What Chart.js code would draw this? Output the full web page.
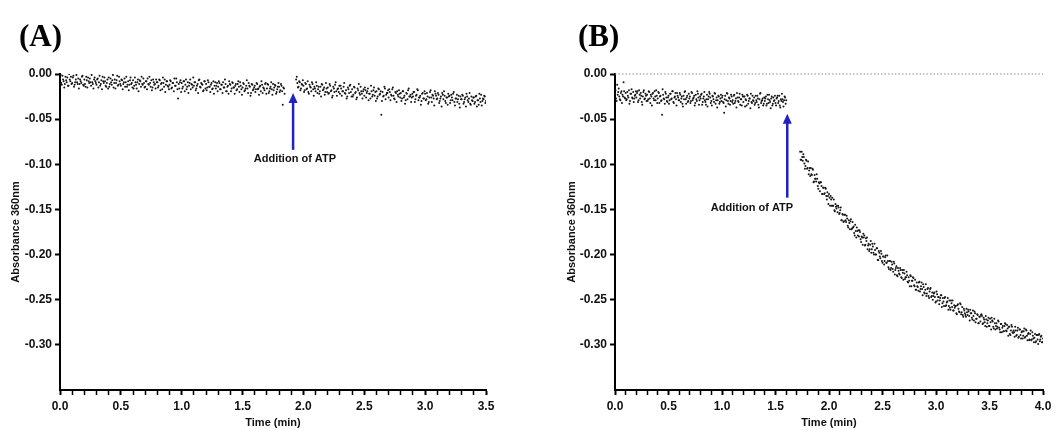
<!DOCTYPE html>
<html>
<head>
<meta charset="utf-8">
<script src="https://cdn.jsdelivr.net/npm/chart.js@4.4.1/dist/chart.umd.min.js"></script>
<style>
  html, body { margin: 0; padding: 0; background: #fff; }
  #wrap { position: relative; width: 1062px; height: 431px; overflow: hidden; }
  .panel { position: absolute; top: 0; width: 531px; height: 431px; }
  .tag { position: absolute; font: bold 31px "Liberation Serif", "Times New Roman", serif; line-height: 31px; color: #000; }
</style>
</head>
<body>
<div id="wrap">
  <div class="panel" style="left:0"><canvas id="chartA" width="531" height="431"></canvas></div>
  <div class="panel" style="left:531px"><canvas id="chartB" width="531" height="431"></canvas></div>
  <div class="tag" style="left:19px;top:20px">(A)</div>
  <div class="tag" style="left:578px;top:20px">(B)</div>
</div>
<script>
// absorbance readings in milli-absorbance units, sampled every 0.005 min;
// each run is kept as two interleaved arrays (even / odd samples)
const stepMin = 0.01;
const halfStep = 0.005;
const yTicks = [0, -0.05, -0.10, -0.15, -0.20, -0.25, -0.30];

// panel A, before ATP (0.00 - 1.845 min)
const startA1 = 0.00;
const absA1 = [
  -5,-10,-2,-8,-11,-7,-4,-13,-6,-3,
  -10,-2,-12,-6,-9,-5,-11,-8,-3,-12,
  -6,-14,-7,-4,-10,-9,-1,-11,-6,-8,
  -12,-5,-9,-13,-7,-3,-10,-8,-14,-6,
  -4,-11,-9,-7,-15,-6,-10,-2,-12,-8,
  -13,-7,-11,-5,-9,-14,-8,-12,-4,-10,
  -7,-13,-9,-16,-6,-11,-8,-3,-12,-10,
  -14,-8,-5,-12,-10,-7,-15,-9,-11,-6,
  -9,-13,-7,-11,-17,-10,-6,-12,-8,-14,
  -12,-8,-15,-10,-5,-13,-9,-27,-16,-7,
  -10,-14,-8,-12,-17,-9,-13,-6,-11,-15,
  -13,-9,-16,-11,-7,-14,-10,-12,-18,-8,
  -11,-15,-9,-14,-12,-17,-8,-13,-16,-10,
  -14,-10,-17,-12,-9,-15,-11,-19,-13,-8,
  -12,-16,-10,-15,-13,-18,-11,-14,-9,-17,
  -15,-11,-18,-13,-16,-10,-14,-21,-12,-17,
  -13,-17,-11,-16,-14,-19,-12,-15,-18,-10,
  -16,-12,-19,-14,-17,-11,-15,-13,-20,-14,
  -14,-18,-13,-34,-16
];
const absA1b = [
  -1,-12,-6,-15,-3,-9,-13,0,-8,-11,
  -4,-14,-9,-1,-11,-16,-6,-10,-2,-13,
  -11,-3,-15,-8,-5,-13,-9,-16,-4,-10,
  -6,-15,-2,-11,-17,-8,-4,-13,-10,-16,
  -14,-5,-12,-1,-10,-16,-7,-13,-3,-11,
  -6,-17,-9,-14,-3,-12,-18,-7,-11,-15,
  -16,-4,-12,-9,-19,-7,-14,-11,-5,-15,
  -8,-17,-11,-3,-14,-18,-6,-12,-16,-9,
  -15,-6,-18,-10,-4,-14,-20,-8,-13,-17,
  -7,-16,-10,-19,-13,-5,-17,-11,-9,-20,
  -16,-8,-19,-6,-14,-21,-10,-17,-12,-4,
  -9,-18,-13,-21,-6,-15,-11,-19,-8,-16,
  -18,-7,-14,-20,-10,-16,-22,-9,-13,-19,
  -8,-17,-12,-21,-15,-6,-19,-14,-22,-11,
  -19,-9,-15,-22,-11,-17,-8,-20,-13,-23,
  -10,-19,-16,-7,-21,-13,-24,-11,-18,-15,
  -20,-10,-17,-23,-13,-8,-21,-16,-11,-22,
  -11,-21,-16,-9,-23,-18,-12,-22,-17,-10,
  -20,-11,-19,-15,-22
];

// panel A, after ATP (1.94 - 3.50 min)
const startA2 = 1.94;
const absA2 = [
  -6,-10,-14,-9,-16,-12,
  -13,-18,-11,-16,-20,-12,-15,-9,-17,-14,
  -19,-13,-17,-22,-14,-11,-18,-15,-20,-16,
  -15,-21,-13,-18,-24,-16,-12,-19,-17,-20,
  -22,-16,-19,-14,-21,-18,-25,-17,-13,-20,
  -17,-23,-15,-20,-26,-18,-21,-14,-22,-19,
  -24,-18,-21,-16,-22,-27,-19,-23,-15,-20,
  -19,-25,-17,-22,-45,-20,-24,-16,-23,-21,
  -26,-20,-23,-17,-24,-28,-21,-19,-25,-22,
  -21,-27,-19,-24,-29,-22,-18,-25,-23,-26,
  -25,-20,-28,-23,-18,-26,-24,-30,-21,-27,
  -22,-28,-25,-31,-20,-26,-23,-27,-19,-24,
  -27,-23,-30,-25,-21,-28,-24,-32,-26,-22,
  -24,-29,-26,-22,-31,-27,-23,-28,-33,-25,
  -28,-24,-31,-26,-22,-29,-27,-33,-25,-30,
  -26,-31,-24,-29,-34,-27,-23,-30,-28,-25,
  -30
];
const absA2b = [
  -3,-15,-8,-18,-11,-7,
  -20,-10,-17,-8,-22,-14,-19,-11,-24,-16,
  -9,-21,-14,-19,-25,-12,-17,-23,-10,-20,
  -22,-11,-19,-26,-14,-20,-9,-24,-16,-13,
  -13,-24,-19,-10,-22,-27,-15,-21,-12,-25,
  -25,-14,-21,-28,-16,-11,-23,-19,-27,-17,
  -15,-26,-19,-29,-22,-13,-25,-18,-24,-30,
  -27,-16,-23,-19,-30,-25,-14,-28,-21,-18,
  -17,-29,-24,-15,-27,-20,-31,-23,-18,-26,
  -30,-19,-26,-33,-21,-28,-16,-25,-31,-22,
  -20,-31,-24,-17,-29,-26,-34,-22,-27,-19,
  -29,-21,-33,-26,-18,-31,-24,-35,-22,-28,
  -21,-32,-27,-36,-23,-19,-30,-26,-34,-25,
  -32,-23,-29,-20,-35,-27,-31,-24,-37,-28,
  -23,-33,-28,-36,-25,-31,-21,-34,-29,-26,
  -33,-25,-36,-29,-22,-31,-35,-27,-24,-32
];

// panel B, before ATP (0.00 - 1.60 min)
const startB1 = 0.00;
const absB1 = [
  -22,-27,-12,-20,-25,-29,-19,-23,-9,-26,
  -21,-28,-24,-18,-30,-22,-26,-20,-27,-23,
  -26,-19,-29,-23,-21,-31,-25,-18,-27,-24,
  -23,-28,-20,-32,-25,-22,-27,-19,-29,-24,
  -27,-21,-25,-30,-45,-23,-28,-20,-26,-31,
  -24,-29,-22,-27,-19,-32,-25,-28,-21,-26,
  -29,-23,-27,-33,-24,-20,-28,-26,-31,-22,
  -25,-30,-21,-27,-24,-32,-28,-19,-26,-29,
  -27,-22,-31,-25,-29,-34,-23,-28,-20,-26,
  -30,-24,-28,-21,-33,-26,-29,-25,-31,-23,
  -26,-31,-43,-24,-29,-22,-33,-27,-30,-25,
  -29,-24,-32,-27,-21,-30,-26,-34,-28,-23,
  -31,-25,-28,-35,-24,-30,-27,-22,-32,-29,
  -26,-32,-29,-24,-34,-28,-21,-30,-27,-33,
  -30,-25,-33,-28,-23,-31,-27,-35,-26,-29,
  -32,-27,-24,-30,-35,-28,-22,-31,-29,-26,
  -29
];
const absB1b = [
  -18,-30,-23,-16,-28,-21,-32,-25,-19,-27,
  -29,-20,-26,-33,-22,-17,-27,-31,-24,-19,
  -21,-31,-18,-27,-24,-34,-20,-28,-22,-30,
  -30,-19,-27,-23,-35,-21,-29,-25,-18,-32,
  -20,-32,-24,-29,-17,-27,-33,-22,-30,-26,
  -33,-22,-28,-19,-31,-26,-21,-35,-24,-29,
  -21,-31,-25,-36,-28,-19,-33,-24,-30,-27,
  -32,-20,-29,-26,-35,-23,-30,-22,-34,-25,
  -23,-34,-27,-20,-31,-28,-36,-25,-22,-32,
  -35,-25,-31,-22,-29,-37,-24,-33,-27,-30,
  -24,-32,-28,-36,-21,-30,-26,-34,-23,-31,
  -33,-23,-30,-37,-26,-31,-22,-28,-35,-25,
  -25,-36,-29,-23,-33,-27,-38,-31,-24,-30,
  -34,-24,-31,-27,-37,-22,-32,-29,-35,-26,
  -27,-35,-23,-32,-29,-38,-25,-33,-30,-24,
  -35,-26,-32,-24,-37,-30,-28,-36,-25,-33
];

// panel B, after ATP (1.73 - 4.00 min)
const startB2 = 1.73;
const absB2 = [
  -86,-95,-92,-89,-99, -102,-96,-104,-111,-104,
  -104,-112,-106,-119,-116, -119,-116,-127,-121,-120,
  -124,-133,-126,-132,-127, -139,-135,-133,-146,-139,
  -137,-146,-151,-144,-149, -153,-148,-154,-148,-162,
  -156,-163,-156,-164,-160, -170,-165,-163,-172,-164,
  -169,-179,-174,-170,-179, -180,-175,-186,-181,-177,
  -179,-189,-185,-194,-188, -194,-185,-194,-191,-200,
  -195,-200,-193,-206,-198, -204,-199,-209,-202,-207,
  -201,-209,-207,-216,-207, -215,-211,-219,-210,-217,
  -213,-224,-218,-222,-217, -226,-220,-217,-227,-225,
  -223,-231,-229,-223,-235, -229,-226,-235,-239,-231,
  -236,-231,-241,-235,-238, -233,-242,-239,-246,-238,
  -246,-241,-237,-246,-250, -243,-247,-252,-244,-247,
  -255,-248,-245,-254,-252, -248,-257,-253,-248,-257,
  -259,-251,-258,-262,-256, -257,-265,-256,-260,-264,
  -255,-264,-267,-260,-265, -269,-264,-261,-268,-261,
  -265,-272,-268,-263,-275, -271,-267,-276,-269,-267,
  -268,-276,-272,-279,-272, -276,-270,-279,-275,-270,
  -274,-282,-276,-279,-282, -273,-281,-286,-277,-281,
  -285,-279,-277,-285,-282, -280,-288,-284,-280,-287,
  -286,-280,-290,-284,-292, -283,-289,-286,-293,-285,
  -292,-283,-290,-288,-295, -288,-295,-286,-293,-292,
  -297,-289,-294,-289,-296, -291,-297,-293
];
const absB2b = [
  -95,-86,-96,-92,-105, -95,-105,-97,-107,-113,
  -111,-105,-120,-112,-116, -111,-124,-120,-130,-120,
  -133,-126,-133,-126,-135, -131,-144,-137,-135,-146,
  -146,-139,-152,-147,-146, -146,-155,-151,-162,-155,
  -164,-156,-162,-157,-168, -162,-172,-161,-171,-170,
  -176,-167,-181,-174,-173, -173,-183,-180,-189,-181,
  -190,-182,-181,-190,-196, -189,-198,-188,-198,-188,
  -200,-193,-206,-196,-202, -196,-207,-202,-211,-203,
  -209,-201,-214,-207,-217, -208,-216,-208,-222,-215,
  -223,-215,-221,-215,-225, -217,-228,-221,-225,-219,
  -230,-225,-235,-224,-229, -225,-234,-228,-239,-235,
  -240,-230,-238,-231,-245, -236,-243,-233,-243,-237,
  -248,-238,-247,-242,-246, -242,-253,-241,-251,-247,
  -251,-245,-258,-248,-257, -247,-256,-252,-261,-251,
  -261,-254,-251,-262,-259, -257,-266,-255,-263,-254,
  -266,-258,-269,-262,-267, -260,-267,-263,-273,-265,
  -270,-262,-273,-265,-271, -266,-276,-269,-274,-266,
  -277,-270,-275,-268,-280, -273,-279,-271,-283,-273,
  -280,-271,-283,-276,-280, -274,-283,-277,-286,-279,
  -285,-276,-284,-278,-290, -280,-289,-278,-286,-284,
  -291,-284,-289,-281,-291, -283,-293,-285,-290,-282,
  -291,-284,-295,-287,-294, -284,-294,-290,-297,-288,
  -296,-289,-299,-288,-294, -290,-297
];

const FONT = '"Liberation Sans", Arial, Helvetica, sans-serif';

function toPoints(start, vals) {
  return vals.map((v, i) => ({ x: +(start + i * stepMin).toFixed(3), y: v / 1000 }));
}

function dots(data) {
  return {
    type: 'scatter', data: data,
    pointRadius: 1.0, pointHoverRadius: 0, borderWidth: 0,
    backgroundColor: '#161616', borderColor: '#161616'
  };
}

// arrow + "Addition of ATP" label, placed in data coordinates
const arrowNote = {
  id: 'arrowNote',
  afterDatasetsDraw(chart, args, o) {
    const { ctx, scales: { x, y } } = chart;
    const px = x.getPixelForValue(o.x);
    const tip = y.getPixelForValue(o.tip);
    const tail = y.getPixelForValue(o.tail);
    ctx.save();
    ctx.strokeStyle = '#2222c4';
    ctx.fillStyle = '#2222c4';
    ctx.lineWidth = 2.5;
    ctx.beginPath();
    ctx.moveTo(px, tip + 8);
    ctx.lineTo(px, tail);
    ctx.stroke();
    ctx.beginPath();
    ctx.moveTo(px, tip);
    ctx.lineTo(px - 4.5, tip + 10);
    ctx.lineTo(px + 4.5, tip + 10);
    ctx.closePath();
    ctx.fill();
    ctx.fillStyle = '#111';
    ctx.font = 'bold 11px ' + FONT;
    ctx.textAlign = 'center';
    ctx.textBaseline = 'middle';
    ctx.fillText(o.text, x.getPixelForValue(o.labelX), y.getPixelForValue(o.labelY));
    ctx.restore();
  }
};

function makeOptions(xMax, padLeft, padRight, yWidth, note) {
  return {
    responsive: false,
    animation: false,
    events: [],
    layout: { padding: { left: padLeft, right: padRight, top: 74, bottom: 0 } },
    plugins: { legend: { display: false }, tooltip: { enabled: false }, arrowNote: note },
    scales: {
      x: {
        type: 'linear', min: 0, max: xMax,
        border: { display: true, color: '#000', width: 2 },
        grid: {
          display: true, drawOnChartArea: false, drawTicks: true,
          tickLength: 5, tickColor: '#000',
          tickWidth: c => (Math.round(c.tick.value * 10) % 5 === 0 ? 2 : 1.5)
        },
        ticks: {
          stepSize: 0.1, autoSkip: false, maxRotation: 0, padding: 4,
          color: '#111', font: { family: FONT, size: 12, weight: 'bold' },
          callback: v => (Math.round(v * 10) % 5 === 0 ? v.toFixed(1) : '')
        },
        title: {
          display: true, text: 'Time (min)', color: '#111',
          font: { family: FONT, size: 11, weight: 'bold' },
          padding: { top: 0, bottom: 1 }
        },
        afterFit: s => { s.height = 41; }
      },
      y: {
        type: 'linear', min: -0.35, max: 0,
        afterBuildTicks: s => { s.ticks = yTicks.map(v => ({ value: v })); },
        border: { display: true, color: '#000', width: 2 },
        grid: {
          display: true, drawOnChartArea: false, drawTicks: true,
          tickLength: 5, tickColor: '#000', tickWidth: 2
        },
        ticks: {
          padding: 3, color: '#111', font: { family: FONT, size: 12, weight: 'bold' },
          callback: v => v.toFixed(2)
        },
        title: {
          display: true, text: 'Absorbance 360nm', color: '#111',
          font: { family: FONT, size: 11, weight: 'bold' },
          padding: { top: 4, bottom: 4 }
        },
        afterFit: s => { s.width = yWidth; }
      }
    }
  };
}

new Chart(document.getElementById('chartA'), {
  type: 'scatter',
  data: {
    datasets: [
      dots(toPoints(startA1, absA1)), dots(toPoints(startA1 + halfStep, absA1b)),
      dots(toPoints(startA2, absA2)), dots(toPoints(startA2 + halfStep, absA2b))
    ]
  },
  options: makeOptions(3.5, 5, 45, 55,
    { x: 1.915, tip: -0.021, tail: -0.084, labelX: 1.93, labelY: -0.094, text: 'Addition of ATP' }),
  plugins: [arrowNote]
});

const zeroLineB = 0;
new Chart(document.getElementById('chartB'), {
  type: 'scatter',
  data: {
    datasets: [
      {
        type: 'line', data: [{ x: 0, y: zeroLineB }, { x: 4.0, y: zeroLineB }],
        borderColor: '#8a8a8a', borderWidth: 1, borderDash: [1.5, 2],
        pointRadius: 0, clip: false
      },
      dots(toPoints(startB1, absB1)), dots(toPoints(startB1 + halfStep, absB1b)),
      dots(toPoints(startB2, absB2)), dots(toPoints(startB2 + halfStep, absB2b))
    ]
  },
  options: makeOptions(4.0, 30, 19, 54,
    { x: 1.61, tip: -0.044, tail: -0.137, labelX: 1.28, labelY: -0.148, text: 'Addition of ATP' }),
  plugins: [arrowNote]
});
</script>
</body>
</html>
